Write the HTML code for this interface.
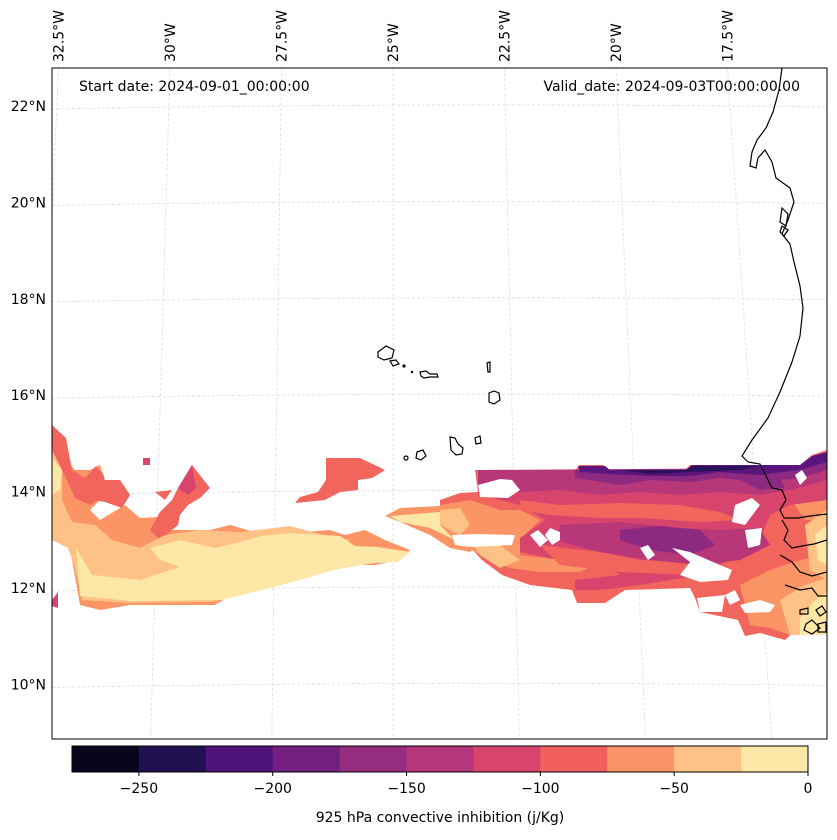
<!DOCTYPE html>
<html><head><meta charset="utf-8"><style>
body{margin:0;background:#fff;font-family:"DejaVu Sans","Liberation Sans",sans-serif;}
svg text{font-family:"DejaVu Sans","Liberation Sans",sans-serif;}
</style></head><body>
<svg id="chart" width="837" height="836" viewBox="0 0 837 836" xmlns="http://www.w3.org/2000/svg">
<defs><clipPath id="mapclip"><rect x="52" y="68" width="775" height="671"/></clipPath></defs>
<g id="map" clip-path="url(#mapclip)">
 <g id="grid"></g>
 <g>
  <path fill="#fc9565" d="M52,440 L62,455 L75,470 L90,470 L100,465 L105,480 L125,490 L120,505 L100,500 L90,510 L100,520 L125,505 L140,518 L160,517 L170,530 L210,530 L230,525 L265,535 L305,532 L330,530 L345,535 L365,530 L385,540 L410,550 L400,560 L375,565 L345,565 L325,568 L300,578 L275,586 L240,590 L215,605 L130,605 L100,610 L80,605 L72,560 L70,540 L52,530 Z"/>
  <path fill="#f2655c" d="M52,425 L66,438 L72,470 L85,478 L96,466 L104,476 L105,495 L90,505 L75,498 L62,470 L52,455 Z"/>
  <path fill="#f2655c" d="M192,465 L210,488 L200,498 L188,505 L180,515 L178,525 L160,540 L150,530 L160,512 L172,500 L178,488 Z M155,492 L172,490 L165,500 Z M100,480 L120,480 L130,495 L122,508 L105,502 L92,500 Z"/>
  <path fill="#d8456c" d="M192,465 L196,488 L188,495 L178,488 Z M143,458 L150,458 L150,465 L143,465 Z M52,600 L58,592 L58,608 L52,606 Z"/>
  <path fill="#f2655c" d="M326,458 L360,458 L385,470 L372,478 L358,480 L358,490 L340,492 L325,500 L295,503 L300,497 L318,492 L326,480 Z"/>
  <path fill="#fec286" d="M52,450 L62,470 L62,500 L72,522 L95,525 L112,540 L140,548 L165,535 L200,530 L240,532 L290,526 L320,534 L350,540 L340,546 L310,555 L285,572 L262,590 L212,602 L130,603 L82,600 L74,565 L68,548 L52,540 Z"/>
  <path fill="#fde7a6" d="M76,548 L92,575 L140,580 L180,567 L160,560 L150,548 L180,540 L215,548 L240,542 L262,536 L290,533 L340,536 L355,546 L378,547 L410,552 L398,562 L375,563 L355,566 L330,571 L300,580 L262,590 L222,600 L130,601 L80,596 Z M52,458 L62,470 L60,490 L52,494 Z"/>
  <path fill="#fc9565" d="M385,516 L400,508 L440,506 L472,515 L485,540 L470,552 L450,548 L430,535 L400,522 Z"/>
  <path fill="#fde7a6" d="M390,516 L440,512 L460,520 L470,535 L455,540 L430,528 L400,522 Z"/>
  <path fill="#f2655c" d="M440,500 L460,493 L478,492 L475,470 L575,470 L580,465 L603,465 L608,470 L685,470 L690,465 L800,465 L812,455 L827,450 L827,612 L805,622 L785,640 L760,633 L745,636 L738,620 L700,612 L695,598 L690,588 L625,590 L605,603 L577,603 L572,590 L530,585 L502,575 L482,560 L470,547 L455,540 L440,525 Z"/>
  <path fill="#fc9565" d="M440,505 L470,500 L500,510 L520,510 L540,520 L520,540 L520,555 L560,560 L600,562 L580,572 L540,572 L510,568 L480,555 L455,540 L440,525 Z M740,585 L770,570 L800,560 L827,555 L827,635 L790,635 L770,628 L750,625 Z M790,498 L815,490 L827,488 L827,520 L805,520 Z"/>
  <path fill="#fec286" d="M440,510 L460,508 L470,525 L460,535 L440,525 Z M470,540 L500,545 L520,560 L500,568 L480,555 Z M780,600 L805,585 L827,578 L827,635 L790,635 Z M805,525 L827,510 L827,580 L810,570 Z"/>
  <path fill="#fde7a6" d="M800,618 L815,600 L827,592 L827,635 L800,635 Z M815,535 L827,525 L827,565 L818,560 Z"/>
  <path fill="#d8456c" d="M478,480 L760,478 L790,470 L827,465 L827,500 L790,505 L770,515 L760,540 L730,560 L700,575 L640,585 L600,590 L575,590 L575,580 L620,575 L600,560 L560,560 L520,552 L520,538 L545,520 L520,505 L500,500 L478,495 Z"/>
  <path fill="#f2655c" d="M520,500 L560,505 L620,503 L680,505 L720,512 L740,520 L700,522 L640,518 L600,518 L550,515 L520,510 Z M540,545 L600,552 L640,560 L680,562 L720,570 L690,575 L620,572 L560,565 Z"/>
  <path fill="#b73779" d="M478,470 L800,468 L827,458 L827,480 L790,490 L760,495 L720,492 L680,495 L640,492 L600,495 L560,490 L520,492 L490,488 L478,485 Z M560,525 L620,522 L680,528 L720,530 L760,528 L770,545 L740,560 L700,565 L650,560 L600,552 L555,540 Z"/>
  <path fill="#8c2981" d="M575,470 L800,468 L820,460 L827,458 L827,470 L800,478 L760,482 L720,478 L690,482 L650,480 L620,485 L590,480 L575,478 Z M620,530 L660,526 L700,530 L715,545 L690,555 L650,550 L620,540 Z M740,480 L780,478 L785,488 L760,490 Z"/>
  <path fill="#5a167e" d="M578,466 L605,466 L610,470 L686,470 L692,465 L800,465 L812,456 L827,452 L827,462 L800,470 L760,475 L720,472 L690,476 L650,476 L610,474 L580,472 Z"/>
  <path fill="#2a1159" d="M620,470 L686,470 L692,466 L760,466 L740,470 L690,472 L650,474 Z"/>
  <g fill="#fff">
   <path d="M478,485 L500,479 L512,480 L520,490 L508,498 L480,497 Z"/>
   <path d="M452,535 L478,534 L515,535 L512,545 L470,547 L455,545 Z"/>
   <path d="M530,535 L538,530 L548,540 L540,547 Z M550,528 L560,532 L560,540 L552,545 L545,535 Z"/>
   <path d="M640,548 L648,545 L655,555 L648,560 Z"/>
   <path d="M672,548 L690,552 L720,565 L732,570 L728,580 L700,582 L680,575 L690,562 Z"/>
   <path d="M735,505 L752,498 L760,505 L745,525 L732,522 Z M745,530 L762,528 L760,545 L748,548 Z"/>
   <path d="M795,475 L802,470 L807,478 L800,485 Z"/>
   <path d="M740,605 L760,600 L775,605 L770,612 L745,613 Z M725,595 L735,590 L740,600 L730,605 Z"/>
   <path d="M697,598 L725,595 L722,612 L700,612 Z"/>
  </g>
 </g>
 <g fill="none" stroke="#000" stroke-width="1.2">
  <path d="M782,68 L779,90 L773,112 L766,128 L757,140 L752,152 L750,166 L756,168 L758,158 L765,150 L772,162 L776,178 L790,188 L794,202 L788,220 L782,234 L790,244 L794,262 L800,286 L803,308 L800,336 L792,362 L780,392 L768,418 L752,440 L742,456 L748,462 L760,464 L766,476 L772,488 L782,490 L786,500 L780,510 L784,518 L798,518 L810,516 L827,514"/>
  <path d="M782,520 L788,530 L784,540 L792,548 L802,546 L814,544 L827,540 M780,555 L792,562 L800,572 L812,576 L827,572 M785,585 L800,590 L812,588 L818,596 L827,596"/>
  <path d="M782,208 L788,214 L786,226 L780,222 Z M782,226 L788,230 L784,236 L780,232 Z"/>
  <path d="M800,610 L808,608 L808,614 L800,614 Z M816,610 L822,606 L826,612 L820,616 Z M806,624 L812,620 L820,628 L812,634 L804,630 Z M818,624 L826,622 L826,632 L818,632 Z"/>
  <path d="M378,352 L386,346 L394,350 L392,358 L384,360 L378,357 Z"/>
  <path d="M390,361 L396,360 L399,364 L393,366 Z"/>
  <circle cx="404" cy="366" r="1"/><circle cx="412" cy="372" r="0.6"/>
  <path d="M420,372 L426,371 L430,374 L437,374 L438,377 L430,377 L424,378 L421,376 Z"/>
  <path d="M487,363 L490,362 L490,372 L488,372 Z"/>
  <path d="M489,393 L494,391 L499,393 L500,400 L494,404 L489,402 Z"/>
  <path d="M450,437 L455,438 L458,444 L463,448 L462,454 L456,455 L451,450 Z"/>
  <path d="M475,438 L480,436 L481,443 L476,444 Z"/>
  <path d="M417,452 L423,450 L426,456 L421,460 L416,458 Z"/>
  <circle cx="406" cy="458" r="2"/>
 </g>
</g>
<rect x="52" y="68" width="775" height="671" fill="none" stroke="#000" stroke-width="1"/>
<g id="labels" font-size="14" fill="#000"></g>
<text x="79" y="91" font-size="14">Start date: 2024-09-01_00:00:00</text>
<text x="800" y="91" font-size="14" text-anchor="end">Valid_date: 2024-09-03T00:00:00.00</text>
<g id="colorbar"></g>
<text x="440" y="822" font-size="14" text-anchor="middle">925 hPa convective inhibition (j/Kg)</text>
</svg>
<script>
const levels=[-275,-250,-225,-200,-175,-150,-125,-100,-75,-50,-25,0];
const levelColors=["#07061c","#221150","#4f127b","#721f81","#942c80","#b5367a","#d8456c","#f1605d","#fd9467","#fec286","#fde7a6"];
const cbTicks=[-250,-200,-150,-100,-50,0];
const lonTicks=[-32.5,-30,-27.5,-25,-22.5,-20,-17.5];
const latTicks=[22,20,18,16,14,12,10];
const NS="http://www.w3.org/2000/svg";
function mk(t,a,p){const e=document.createElementNS(NS,t);for(const k in a)e.setAttribute(k,a[k]);p.appendChild(e);return e;}
const cb=document.getElementById('colorbar');
const cx0=72,cx1=808,cy=746,ch=26;
const cbx=v=>cx0+(v-levels[0])/(levels[levels.length-1]-levels[0])*(cx1-cx0);
for(let i=0;i<levelColors.length;i++){
 const r=mk('rect',{x:cbx(levels[i]),y:cy,width:cbx(levels[i+1])-cbx(levels[i])+0.5,height:ch,fill:levelColors[i]},cb);
 
 
}
const fr=mk('rect',{x:cx0,y:cy,width:cx1-cx0,height:ch,fill:'none',stroke:'#000','stroke-width':1},cb);


cbTicks.forEach(v=>{
 mk('line',{x1:cbx(v),x2:cbx(v),y1:cy+ch,y2:cy+ch+4,stroke:'#000'},cb);
 const t=mk('text',{x:cbx(v),y:cy+ch+21,'font-size':14,'text-anchor':'middle'},cb);
 t.textContent=(v<0?'\u2212'+(-v):v);
 
 
});
const latY=v=>106+(22-v)*48.2;
const grid=document.getElementById('grid'),lab=document.getElementById('labels');
lonTicks.forEach(v=>{
 const xt=393+(v+25)*44.6, xb=393+(v+25)*(v<-25?48.5:50.5);
 const l=mk('line',{x1:xt,y1:68,x2:xb,y2:739,stroke:'#d8d8d8','stroke-width':0.7,'stroke-dasharray':'3,2'},grid);
 
 
 const t=mk('text',{transform:`translate(${xt+5},62) rotate(-90)`,'font-size':14},lab);
 t.textContent=(-v)+'°W';
 
 
});
latTicks.forEach(v=>{
 const y=latY(v);
 const l=mk('path',{d:`M52,${y+3} Q440,${y-4} 827,${y+1}`,fill:'none',stroke:'#d8d8d8','stroke-width':0.7,'stroke-dasharray':'3,2'},grid);
 
 
 const t=mk('text',{x:46,y:y+5,'font-size':14,'text-anchor':'end'},lab);
 t.textContent=v+'°N';
 
 
});
</script>
</body></html>
